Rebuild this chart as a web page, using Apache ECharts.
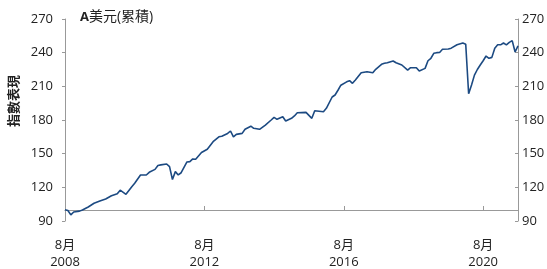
<!DOCTYPE html>
<html>
<head>
<meta charset="utf-8">
<script src="https://cdn.jsdelivr.net/npm/echarts@6/dist/echarts.min.js"></script>
<style>
  html, body { margin: 0; padding: 0; background: #fff; }
  #chart { width: 547px; height: 269px; }
</style>
</head>
<body>
<div id="chart"></div>
<script>
// monthly readings, index = 100 at Aug 2008
const months = [
  "2008-08", "2008-09", "2008-10", "2008-11", "2009-01", "2009-02", "2009-04", "2009-06",
  "2009-08", "2009-10", "2009-12", "2010-02", "2010-03", "2010-05", "2010-07", "2010-08",
  "2010-10", "2010-12", "2011-01", "2011-03", "2011-04", "2011-05", "2011-07", "2011-08",
  "2011-09", "2011-10", "2011-11", "2011-12", "2012-02", "2012-03", "2012-04", "2012-05",
  "2012-07", "2012-09", "2012-11", "2013-01", "2013-02", "2013-04", "2013-05", "2013-06",
  "2013-07", "2013-09", "2013-10", "2013-12", "2014-01", "2014-03", "2014-05", "2014-07",
  "2014-08", "2014-09", "2014-11", "2014-12", "2015-02", "2015-03", "2015-04", "2015-07",
  "2015-09", "2015-10", "2016-01", "2016-02", "2016-04", "2016-05", "2016-06", "2016-07",
  "2016-09", "2016-10", "2016-11", "2016-12", "2017-02", "2017-04", "2017-06", "2017-07",
  "2017-09", "2017-10", "2017-11", "2018-01", "2018-02", "2018-04", "2018-06", "2018-07",
  "2018-09", "2018-10", "2018-12", "2019-01", "2019-02", "2019-03", "2019-04", "2019-05",
  "2019-06", "2019-08", "2019-09", "2019-11", "2020-01", "2020-02", "2020-03", "2020-04",
  "2020-05", "2020-06", "2020-07", "2020-08", "2020-09", "2020-10", "2020-11", "2020-12",
  "2021-01", "2021-02", "2021-03", "2021-04", "2021-05", "2021-06", "2021-07", "2021-08",
];
const values = [
  100, 99.3, 95.5, 98, 98.8, 99.8, 102.5, 105.8,
  107.8, 109.6, 112.5, 114.3, 117.5, 113.8, 120.6, 123.6,
  131, 131, 133.4, 136, 139.5, 140, 140.8, 138.4,
  127, 134, 131, 133, 142.6, 142.9, 145.3, 145,
  151, 153.9, 160.7, 165, 165.5, 168, 170.2, 165,
  167.2, 168.1, 171.7, 174.5, 172.6, 171.7, 175.5, 180,
  182.4, 180.6, 182.9, 179.1, 181.5, 183.6, 186.5, 186.8,
  181.5, 188.3, 187.4, 190.4, 200.5, 202.3, 206.5, 211,
  214, 215, 212.7, 215.6, 222.1, 223, 222.1, 225.2,
  229.6, 230.5, 231, 232.6, 231, 229, 224.5, 226.6,
  226.6, 223.6, 226, 232.8, 235, 239.4, 240, 240.2,
  243, 243.3, 244, 247, 248.6, 247.5, 203.4, 211.2,
  220, 225, 229, 232.8, 237, 235, 235.8, 243.9,
  247, 247, 248.6, 247, 249.2, 250.7, 240.6, 246,
];
const yTicks = [90, 120, 150, 180, 210, 240, 270];
const xTickYears = [2008, 2012, 2016, 2020];

const FONT = '"Open Sans", "Noto Sans CJK TC", sans-serif';
const startYear = 2008;
const startMonth = 8;

function monthIndex(s) {
  const [y, m] = s.split("-").map(Number);
  return (y - startYear) * 12 + (m - startMonth);
}

const seriesData = months.map((m, i) => [monthIndex(m), values[i]]);

const chart = echarts.init(document.getElementById("chart"));

const yAxisBase = {
  type: "value",
  min: yTicks[0],
  max: yTicks[yTicks.length - 1],
  interval: 30,
  splitLine: { show: false },
  axisLine: { show: true, lineStyle: { color: "#999", width: 1 } },
  axisTick: { show: true, length: 3, lineStyle: { color: "#999" } },
  axisLabel: { color: "#222", fontSize: 13, fontFamily: FONT },
};

chart.setOption({
  animation: false,
  backgroundColor: "#fff",
  grid: { left: 65, right: 29, top: 19, bottom: 48, outerBoundsMode: "none" },
  xAxis: {
    type: "value",
    min: 0,
    max: 156,
    interval: 48,
    offset: -11,
    splitLine: { show: false },
    axisLine: { show: true, lineStyle: { color: "#999", width: 1 } },
    axisTick: { show: true, inside: true, length: 4, lineStyle: { color: "#999" } },
    axisLabel: {
      showMaxLabel: false,
      margin: 27,
      color: "#222",
      fontSize: 13,
      lineHeight: 17,
      fontFamily: FONT,
      formatter: (v) => {
        const year = startYear + v / 12;
        return xTickYears.includes(year) ? `${startMonth}月\n${year}` : "";
      },
    },
  },
  yAxis: [
    { ...yAxisBase, position: "left", axisLabel: { ...yAxisBase.axisLabel, margin: 12 } },
    {
      ...yAxisBase,
      position: "right",
      axisTick: { ...yAxisBase.axisTick, inside: true },
      axisLabel: { ...yAxisBase.axisLabel, margin: 4 },
    },
  ],
  graphic: [
    {
      type: "text",
      left: 80,
      top: 10,
      style: {
        text: "{b|A}{n|美元(累積)}",
        rich: {
          b: { fontSize: 13, fontWeight: "bold", fill: "#222", fontFamily: FONT },
          n: { fontSize: 14, fill: "#222", fontFamily: FONT },
        },
      },
    },
    {
      type: "text",
      x: 14,
      y: 101,
      rotation: Math.PI / 2,
      style: {
        text: "指數表現",
        fontSize: 13,
        fontWeight: "bold",
        fill: "#222",
        fontFamily: FONT,
        align: "center",
        verticalAlign: "middle",
      },
    },
  ],
  series: [
    {
      type: "line",
      data: seriesData,
      symbol: "none",
      lineStyle: { color: "#1c4a82", width: 1.6 },
    },
  ],
});
</script>
</body>
</html>
